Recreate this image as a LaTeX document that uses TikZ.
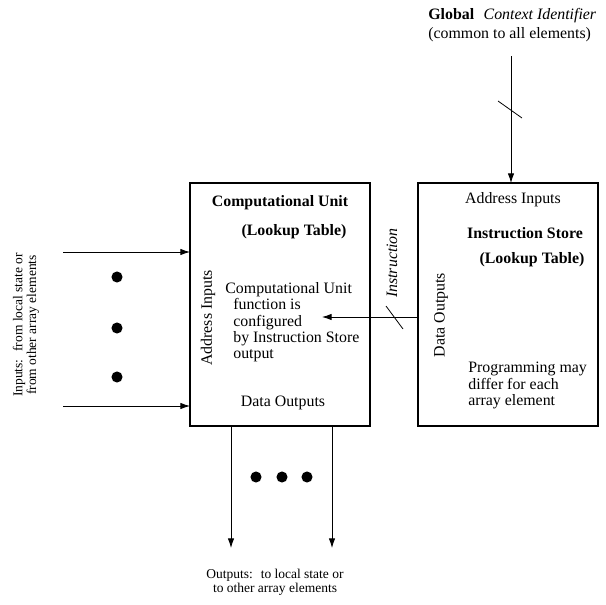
\documentclass[tikz,border=0pt]{standalone}
\usepackage{fontspec}
\setmainfont{Liberation Serif}
\usetikzlibrary{positioning, arrows.meta}

\tikzset{
  unitbox/.style={draw=black, line width=0.8pt, inner sep=0pt, outer sep=0pt, minimum width=113.4pt, minimum height=153.1pt},
  conn/.style={-{Latex[length=6pt,width=4pt]}, line width=0.5pt},
  lbl/.style={inner sep=0pt, font=\fontsize{10}{10.3}\selectfont},
  small/.style={inner sep=0pt, font=\fontsize{8.5}{8.6}\selectfont, align=center},
}

\begin{document}
\begin{tikzpicture}[x=0.63pt, y=-0.63pt]
\useasboundingbox (0,0) rectangle (606,605);

\node[unitbox] (cu) at (280,304.5) {};
\node[unitbox] (is) at (508,304.5) {};

% computational unit
\node[lbl, font=\fontsize{10}{10.3}\bfseries] (cutitle) at (280,203) {Computational Unit};
\node[lbl, font=\fontsize{10}{10.3}\bfseries] (culut) at (294,232) {(Lookup Table)};
\node[lbl, rotate=90] (cuaddr) at (208,318) {Address Inputs};
\node[lbl, align=left, anchor=north west] (cufunc) at (233,282) {\hspace*{-5pt}Computational Unit\\function is\\configured\\by Instruction Store\\output};
\node[lbl] (cudata) at (283,403) {Data Outputs};

% instruction store
\node[lbl] (isaddr) at (513,200) {Address Inputs};
\node[lbl, font=\fontsize{10}{10.3}\bfseries] (istitle) at (525,233) {Instruction Store};
\node[lbl, font=\fontsize{10}{10.3}\bfseries] (islut) at (532,260) {(Lookup Table)};
\node[lbl, rotate=90] (isdata) at (441,315) {Data Outputs};
\node[lbl, align=left, anchor=north west] (isprog) at (468,362) {Programming may\\differ for each\\array element};

% context identifier
\node[lbl, align=left, anchor=north west, font=\fontsize{10}{11.7}\selectfont] (ctxlbl) at (428,8) {\textbf{Global}\hspace{6pt}\textit{Context Identifier}\\(common to all elements)};
\coordinate (ctx) at (511,56);
\draw[conn] (ctx) -- (ctx |- is.north);
\draw[line width=0.5pt] (498,101) -- (522,118);

% instruction path
\coordinate (cfg) at (322,317);
\draw[conn] (cfg -| is.west) -- (cfg);
\draw[line width=0.5pt] (386,306) -- (403,329);
\node[lbl, rotate=90, font=\fontsize{10}{10.3}\itshape] (instr) at (392,263) {Instruction};

% inputs
\coordinate (in1) at (63,252);
\coordinate (in2) at (63,406);
\draw[conn] (in1) -- (in1 -| cu.west);
\draw[conn] (in2) -- (in2 -| cu.west);
\fill (117,277) circle (3.5pt);
\fill (117,328) circle (3.5pt);
\fill (117,377) circle (3.5pt);
\node[small, rotate=90] (inlbl) at (26,325) {Inputs:~ from local state or\\from other array elements};

% outputs
\coordinate (out1) at (231,548);
\coordinate (out2) at (332,548);
\draw[conn] (out1 |- cu.south) -- (out1);
\draw[conn] (out2 |- cu.south) -- (out2);
\fill (256,477) circle (3.5pt);
\fill (282,477) circle (3.5pt);
\fill (307,477) circle (3.5pt);
\node[small] (outlbl) at (275,582) {Outputs:~ to local state or\\to other array elements};

\end{tikzpicture}
\end{document}
